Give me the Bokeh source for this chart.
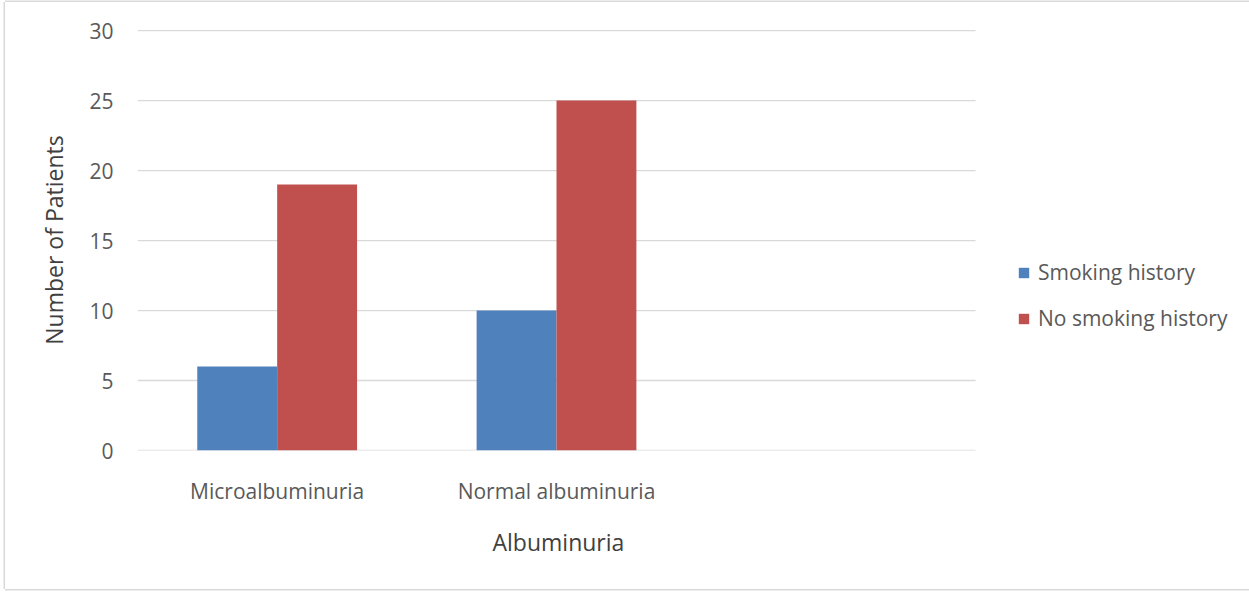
from bokeh.plotting import figure
from bokeh.models import Range1d, FixedTicker, Legend, LegendItem, Title
from bokeh.embed import file_html
from bokeh.resources import INLINE

# Patient counts by albuminuria status and smoking history
categories = ["Microalbuminuria", "Normal albuminuria", ""]
smoking = [6, 10, 0]
no_smoking = [19, 25, 0]
series_names = ["Smoking history", "No smoking history"]
y_ticks = [0, 5, 10, 15, 20, 25, 30]

FONT = "Open Sans"
TEXT = "#595959"
TITLE = "#404040"
BLUE = "#4F81BD"
RED = "#C0504D"
GRID = "#D9D9D9"

n = len(categories)
centers = [i + 0.5 for i in range(n)]
w = 0.286  # bar width as a fraction of one category slot

# The plot frame runs to the right edge so the legend can live inside it;
# the category slots take up the left part of it.
frame_w = 1112
slots_w = 838
x_end = n * frame_w / slots_w

p = figure(
    width=1244, height=587,
    x_range=Range1d(0, x_end),
    y_range=Range1d(0, 30.08),
    output_backend="svg", toolbar_location=None,
    min_border_left=132, min_border_right=0,
    min_border_top=27, min_border_bottom=139,
)
p.margin = (2, 0, 0, 5)
p.styles = {"box-shadow": "-1.5px 0 0 #D9D9D9, 0 -1.5px 0 #D9D9D9, 0 1.5px 0 #D9D9D9"}
p.outline_line_color = None
p.background_fill_color = "white"
p.border_fill_color = "white"

# Horizontal gridlines across the category slots only
p.xgrid.grid_line_color = None
p.ygrid.grid_line_color = None
p.segment(x0=[0] * len(y_ticks), x1=[n] * len(y_ticks), y0=y_ticks, y1=y_ticks,
          line_color=GRID, line_width=1.3)

r1 = p.vbar(x=[c - w / 2 for c in centers], top=smoking, width=w,
            fill_color=BLUE, line_color=None)
r2 = p.vbar(x=[c + w / 2 for c in centers], top=no_smoking, width=w,
            fill_color=RED, line_color=None)

# Axes
p.yaxis.ticker = FixedTicker(ticks=y_ticks)
p.yaxis.axis_line_color = None
p.yaxis.major_tick_line_color = None
p.yaxis.minor_tick_line_color = None
p.yaxis.major_label_standoff = 18
p.yaxis.major_label_text_font = FONT
p.yaxis.major_label_text_font_size = "21px"
p.yaxis.major_label_text_color = TEXT
p.yaxis.axis_label = "Number of Patients"
p.yaxis.axis_label_text_font = FONT
p.yaxis.axis_label_text_font_size = "23px"
p.yaxis.axis_label_text_font_style = "normal"
p.yaxis.axis_label_text_color = TITLE
p.yaxis.axis_label_standoff = 16

p.xaxis.ticker = FixedTicker(ticks=centers)
p.xaxis.major_label_overrides = {c: lab for c, lab in zip(centers, categories)}
p.xaxis.axis_line_color = None
p.xaxis.major_tick_line_color = None
p.xaxis.minor_tick_line_color = None
p.xaxis.major_label_standoff = 20
p.xaxis.major_label_text_font = FONT
p.xaxis.major_label_text_font_size = "21px"
p.xaxis.major_label_text_color = TEXT

# x-axis title, centred under the category slots rather than the whole frame
x_title = Title(text="Albuminuria", align="left", offset=355, standoff=32,
                text_font=FONT, text_font_size="23px", text_font_style="normal",
                text_color=TITLE)
p.add_layout(x_title, "below")

legend = Legend(
    items=[LegendItem(label=series_names[0], renderers=[r1]),
           LegendItem(label=series_names[1], renderers=[r2])],
    location=(880, 118),
    glyph_width=13, glyph_height=13, label_height=24, spacing=18,
    label_standoff=8, padding=0, margin=0,
    border_line_color=None, background_fill_alpha=0,
    label_text_font=FONT, label_text_font_size="21px", label_text_color=TEXT,
)
p.add_layout(legend)

open("out.html", "w").write(file_html(p, INLINE))
